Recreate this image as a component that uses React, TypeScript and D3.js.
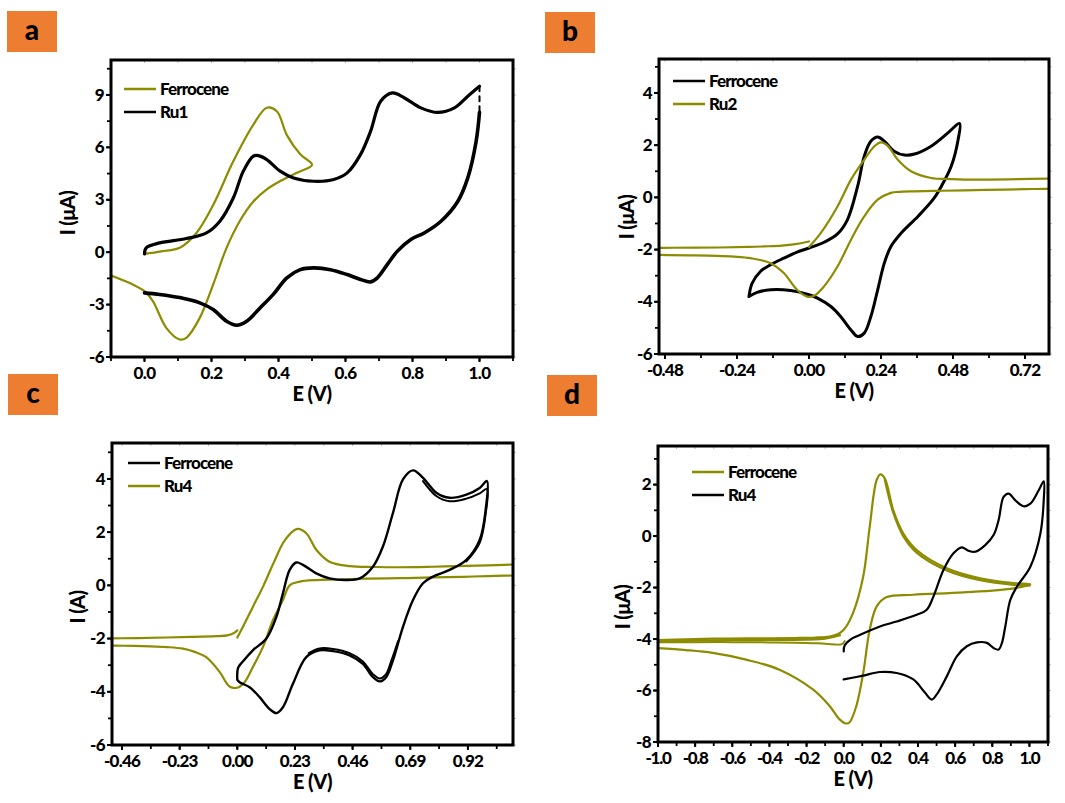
import React from "react";
import * as d3 from "d3";

type Pt = [number, number];

const OLIVE = "#8c8c00";
const ORANGE = "#ed7d31";
const FONT = "Lato, 'Open Sans', sans-serif";

// ---- panel a : E (V) vs I (uA)
const ferroceneA: Pt[] = [
  [0, -0.1], [0.05, 0.05], [0.105, 0.25], [0.155, 1.1], [0.205, 2.7], [0.265, 5.2],
  [0.325, 7.3], [0.365, 8.27], [0.395, 8.07], [0.425, 6.7], [0.465, 5.6], [0.5, 5.0],
  [0.455, 4.55], [0.405, 4.07], [0.365, 3.6], [0.325, 2.9], [0.285, 1.8], [0.245, 0.25],
  [0.205, -1.85], [0.165, -3.76], [0.125, -4.9], [0.105, -5.0], [0.065, -4.33],
  [0.025, -2.8], [0, -2.23], [-0.035, -1.85], [-0.1, -1.34],
];
const ru1AForward: Pt[] = [
  [0, -0.1], [0.005, 0.25], [0.045, 0.53], [0.125, 0.78], [0.185, 1.1], [0.225, 1.77],
  [0.265, 3.1], [0.295, 4.64], [0.325, 5.5], [0.34, 5.53], [0.365, 5.3], [0.405, 4.64],
  [0.445, 4.25], [0.505, 4.06], [0.565, 4.16], [0.605, 4.54], [0.645, 5.6], [0.675, 6.93],
  [0.705, 8.64], [0.74, 9.12], [0.775, 8.84], [0.825, 8.26], [0.875, 8.0], [0.925, 8.26],
  [0.965, 8.93], [1.0, 9.5],
];
const ru1AJump: Pt[] = [[1.0, 9.5], [1.0, 8.0]];
const ru1AReverse: Pt[] = [
  [1.0, 8.0], [0.99, 6.35], [0.965, 4.25], [0.935, 2.9], [0.885, 1.77], [0.835, 1.1],
  [0.795, 0.73], [0.755, 0.06], [0.725, -0.7], [0.695, -1.47], [0.675, -1.7], [0.645, -1.56],
  [0.605, -1.28], [0.555, -1.0], [0.505, -0.9], [0.465, -1.0], [0.425, -1.47], [0.385, -2.4],
  [0.345, -3.19], [0.305, -3.95], [0.275, -4.18], [0.245, -3.95], [0.205, -3.28],
  [0.165, -2.9], [0.105, -2.6], [0.045, -2.42], [0, -2.33],
];
const xTicksA = [0, 0.2, 0.4, 0.6, 0.8, 1.0];
const yTicksA = [-6, -3, 0, 3, 6, 9];

// ---- panel b
const ferroceneB: Pt[] = [
  [-0.2, -3.8], [-0.19, -3.3], [-0.162, -2.84], [-0.128, -2.58], [-0.084, -2.33],
  [-0.04, -2.1], [0, -1.94], [0.05, -1.72], [0.095, -1.4], [0.128, -0.86], [0.162, 0.42],
  [0.184, 1.57], [0.206, 2.15], [0.229, 2.31], [0.251, 2.15], [0.285, 1.76], [0.318, 1.62],
  [0.352, 1.66], [0.407, 1.96], [0.463, 2.47], [0.502, 2.83], [0.497, 2.21], [0.474, 1.19],
  [0.441, 0.42], [0.413, -0.09], [0.363, -0.73], [0.307, -1.37], [0.273, -1.88],
  [0.251, -2.52], [0.229, -3.54], [0.206, -4.57], [0.184, -5.2], [0.162, -5.33],
  [0.14, -5.08], [0.106, -4.57], [0.073, -4.18], [0.028, -3.86], [0, -3.73],
  [-0.061, -3.57], [-0.128, -3.54], [-0.173, -3.64], [-0.2, -3.8],
];
const ru2BForward: Pt[] = [
  [0, -1.9], [0.039, -1.37], [0.095, -0.35], [0.14, 0.68], [0.184, 1.44], [0.218, 1.96],
  [0.24, 2.11], [0.262, 1.98], [0.296, 1.44], [0.34, 1.0], [0.407, 0.74], [0.47, 0.7],
  [0.519, 0.68], [0.6, 0.68], [0.7, 0.7], [0.8, 0.72], [0.85, 0.73],
];
const ru2BReverse: Pt[] = [
  [0.85, 0.34], [0.75, 0.32], [0.65, 0.3], [0.519, 0.27], [0.43, 0.25], [0.352, 0.23],
  [0.3, 0.21], [0.273, 0.17], [0.229, -0.09], [0.184, -0.73], [0.14, -1.62], [0.095, -2.65],
  [0.05, -3.41], [0.017, -3.77], [-0.006, -3.8], [-0.04, -3.54], [-0.084, -2.9],
  [-0.128, -2.52], [-0.195, -2.33], [-0.25, -2.27], [-0.307, -2.24], [-0.4, -2.22],
  [-0.55, -2.2],
];
const ru2BReturn: Pt[] = [
  [-0.55, -1.94], [-0.45, -1.93], [-0.3, -1.92], [-0.2, -1.9], [-0.15, -1.88],
  [-0.09, -1.85], [-0.04, -1.78], [0, -1.69],
];
const xTicksB = [-0.48, -0.24, 0, 0.24, 0.48, 0.72];
const yTicksB = [-6, -4, -2, 0, 2, 4];

// ---- panel c
const ferroceneC: Pt[] = [
  [0.0, -3.55], [0.003, -3.1], [0.023, -2.85], [0.062, -2.44], [0.116, -2.0],
  [0.156, -1.18], [0.182, -0.3], [0.209, 0.58], [0.235, 0.86], [0.262, 0.77],
  [0.315, 0.45], [0.368, 0.26], [0.435, 0.2], [0.488, 0.26], [0.541, 0.7], [0.581, 1.46],
  [0.621, 2.72], [0.661, 3.98], [0.701, 4.32], [0.741, 4.04], [0.794, 3.48], [0.847, 3.29],
  [0.914, 3.41], [0.967, 3.66], [0.996, 3.92], [0.991, 2.85], [0.967, 1.71], [0.914, 0.96],
  [0.847, 0.58], [0.781, 0.33], [0.741, 0.08], [0.701, -0.55], [0.661, -1.56],
  [0.621, -2.82], [0.594, -3.45], [0.568, -3.61], [0.541, -3.45], [0.501, -2.95],
  [0.448, -2.63], [0.382, -2.47], [0.328, -2.44], [0.275, -2.7], [0.222, -3.7],
  [0.182, -4.58], [0.156, -4.8], [0.129, -4.65], [0.089, -4.2], [0.049, -3.83],
  [0.009, -3.64], [0.0, -3.55],
];
const ferroceneC2Top: Pt[] = [
  [0.741, 3.92], [0.794, 3.36], [0.847, 3.16], [0.914, 3.26], [0.967, 3.46], [0.996, 3.62],
  [0.991, 2.7], [0.967, 1.6], [0.914, 0.9],
];
const ferroceneC2Low: Pt[] = [
  [0.641, -2.1], [0.615, -2.82], [0.592, -3.36], [0.568, -3.5], [0.541, -3.34],
  [0.501, -2.86], [0.448, -2.55], [0.382, -2.39], [0.328, -2.37], [0.285, -2.55],
];
const ru4CForward: Pt[] = [
  [0, -1.96], [0.02, -1.6], [0.062, -0.81], [0.105, 0.0], [0.145, 0.85], [0.19, 1.7],
  [0.239, 2.12], [0.275, 1.96], [0.315, 1.34], [0.368, 0.89], [0.448, 0.72], [0.55, 0.69],
  [0.648, 0.68], [0.78, 0.7], [0.914, 0.73], [1.0, 0.75], [1.15, 0.8],
];
const ru4CReverse: Pt[] = [
  [1.15, 0.38], [1.0, 0.35], [0.9, 0.32], [0.781, 0.3], [0.65, 0.27], [0.515, 0.25],
  [0.4, 0.22], [0.315, 0.2], [0.249, 0.14], [0.209, 0.0], [0.182, -0.55], [0.142, -1.31],
  [0.102, -2.32], [0.062, -3.07], [0.029, -3.64], [-0.001, -3.85], [-0.031, -3.8],
  [-0.07, -3.26], [-0.124, -2.7], [-0.17, -2.5], [-0.217, -2.38], [-0.28, -2.32],
  [-0.35, -2.29], [-0.45, -2.27], [-0.55, -2.25],
];
const ru4CReturn: Pt[] = [
  [-0.55, -2.0], [-0.4, -1.98], [-0.283, -1.96], [-0.18, -1.94], [-0.084, -1.91],
  [-0.04, -1.88], [-0.017, -1.81], [0, -1.69],
];
const xTicksC = [-0.46, -0.23, 0, 0.23, 0.46, 0.69, 0.92];
const yTicksC = [-6, -4, -2, 0, 2, 4];

// ---- panel d
const ferroceneDStart: Pt[] = [
  [0.005, -4.08], [-0.01, -4.2], [-0.1, -4.18], [-0.2, -4.15], [-0.4, -4.13], [-0.6, -4.12],
  [-0.8, -4.12], [-1.05, -4.13],
];
const ferroceneD: Pt[] = [
  [-1.05, -4.05], [-0.8, -4.0], [-0.616, -3.98], [-0.4, -3.97], [-0.256, -3.96],
  [-0.15, -3.94], [-0.076, -3.9], [-0.03, -3.8],
  [0, -3.64], [0.05, -2.99], [0.105, -1.57], [0.14, 0.36], [0.177, 2.17], [0.198, 2.4],
  [0.222, 2.23], [0.267, 1.0], [0.321, 0.1], [0.393, -0.54], [0.555, -1.25], [0.735, -1.64],
  [0.915, -1.83], [1.005, -1.87], [0.915, -2.03], [0.645, -2.19], [0.375, -2.28],
  [0.231, -2.37], [0.177, -2.74], [0.14, -3.64], [0.105, -5.32], [0.068, -6.6],
  [0.032, -7.23], [0.011, -7.28], [-0.022, -7.12], [-0.076, -6.6], [-0.166, -5.96],
  [-0.346, -5.19], [-0.526, -4.8], [-0.706, -4.54], [-0.85, -4.43], [-1.05, -4.33],
];
const ferroceneD2: Pt[] = [
  [-1.05, -4.12], [-0.8, -4.06], [-0.4, -4.03], [-0.1, -3.98], [-0.02, -3.85],
];
const ferroceneD3: Pt[] = [
  [0.222, 2.18], [0.267, 0.92], [0.321, 0.0], [0.393, -0.64], [0.555, -1.33],
  [0.735, -1.71], [0.915, -1.89], [1.0, -1.92],
];
const ru4D: Pt[] = [
  [0.0, -4.48], [0.005, -4.25], [0.04, -4.0], [0.068, -3.9], [0.195, -3.51], [0.285, -3.32],
  [0.393, -3.06], [0.447, -2.86], [0.483, -2.35], [0.537, -1.32], [0.591, -0.67],
  [0.636, -0.44], [0.672, -0.57], [0.708, -0.61], [0.762, -0.35], [0.807, 0.04],
  [0.834, 0.62], [0.861, 1.52], [0.888, 1.65], [0.924, 1.39], [0.969, 1.16], [1.005, 1.26],
  [1.05, 1.78], [1.077, 2.13], [1.077, 1.39], [1.059, 0.1], [1.005, -1.19], [0.933, -1.96],
  [0.897, -2.48], [0.87, -3.51], [0.852, -4.15], [0.834, -4.41], [0.807, -4.35],
  [0.771, -4.15], [0.717, -4.13], [0.663, -4.28], [0.609, -4.67], [0.555, -5.45],
  [0.501, -6.15], [0.474, -6.35], [0.438, -6.09], [0.375, -5.57], [0.285, -5.32],
  [0.195, -5.28], [0.105, -5.42], [0, -5.57],
];
const xTicksD = [-1.0, -0.8, -0.6, -0.4, -0.2, 0, 0.2, 0.4, 0.6, 0.8, 1.0];
const yTicksD = [-8, -6, -4, -2, 0, 2];

const locale = d3.formatLocale({ decimal: ".", thousands: ",", grouping: [3], currency: ["", ""], minus: "-" });

type Series = { data: Pt[]; color: string; width: number; dash?: string };
type PanelCfg = {
  id: string;
  letter: string;
  box: [number, number];
  frame: { x0: number; x1: number; y0: number; y1: number };
  xDomain: [number, number];
  yDomain: [number, number];
  xTicks: number[];
  yTicks: number[];
  xFmt: string;
  xTickSpacing: number;
  yTitle: string;
  yTitleX: number;
  yTitleY: number;
  series: Series[];
  legend: { x: number; y: number; items: { label: string; color: string }[] };
};

const panels: PanelCfg[] = [
  {
    id: "a", letter: "a", box: [7, 11],
    frame: { x0: 111, x1: 513, y0: 60, y1: 357 },
    xDomain: [-0.1, 1.1], yDomain: [-6, 11], xTicks: xTicksA, yTicks: yTicksA, xFmt: ".1f", xTickSpacing: -0.6,
    yTitle: "I (μA)", yTitleX: 75, yTitleY: 213,
    series: [
      { data: ferroceneA, color: OLIVE, width: 2.2 },
      { data: ru1AForward, color: "#000", width: 3.2 },
      { data: ru1AJump, color: "#000", width: 2, dash: "5,5" },
      { data: ru1AReverse, color: "#000", width: 3.6 },
    ],
    legend: { x: 124, y: 89, items: [{ label: "Ferrocene", color: OLIVE }, { label: "Ru1", color: "#000" }] },
  },
  {
    id: "b", letter: "b", box: [545, 12],
    frame: { x0: 659, x1: 1049, y0: 59, y1: 354 },
    xDomain: [-0.5, 0.8], yDomain: [-6, 5.3], xTicks: xTicksB, yTicks: yTicksB, xFmt: ".2f", xTickSpacing: -0.8,
    yTitle: "I (μA)", yTitleX: 634, yTitleY: 217,
    series: [
      { data: ferroceneB, color: "#000", width: 3 },
      { data: ru2BForward, color: OLIVE, width: 2.2 },
      { data: ru2BReverse, color: OLIVE, width: 2.2 },
      { data: ru2BReturn, color: OLIVE, width: 2.2 },
    ],
    legend: { x: 673, y: 81, items: [{ label: "Ferrocene", color: "#000" }, { label: "Ru2", color: OLIVE }] },
  },
  {
    id: "c", letter: "c", box: [8, 374],
    frame: { x0: 112, x1: 513, y0: 443, y1: 745 },
    xDomain: [-0.5, 1.1], yDomain: [-6, 5.35], xTicks: xTicksC, yTicks: yTicksC, xFmt: ".2f", xTickSpacing: -0.8,
    yTitle: "I (A)", yTitleX: 85, yTitleY: 607,
    series: [
      { data: ru4CForward, color: OLIVE, width: 2.2 },
      { data: ru4CReverse, color: OLIVE, width: 2.2 },
      { data: ru4CReturn, color: OLIVE, width: 2.2 },
      { data: ferroceneC, color: "#000", width: 2.4 },
      { data: ferroceneC2Top, color: "#000", width: 2 },
      { data: ferroceneC2Low, color: "#000", width: 2 },
    ],
    legend: { x: 128, y: 463, items: [{ label: "Ferrocene", color: "#000" }, { label: "Ru4", color: OLIVE }] },
  },
  {
    id: "d", letter: "d", box: [547, 375],
    frame: { x0: 658, x1: 1048, y0: 446, y1: 742 },
    xDomain: [-1.0, 1.1], yDomain: [-8, 3.5], xTicks: xTicksD, yTicks: yTicksD, xFmt: ".1f", xTickSpacing: -1.3,
    yTitle: "I (μA)", yTitleX: 630, yTitleY: 607,
    series: [
      { data: ferroceneDStart, color: OLIVE, width: 2 },
      { data: ferroceneD, color: OLIVE, width: 2.2 },
      { data: ferroceneD2, color: OLIVE, width: 2.4 },
      { data: ferroceneD3, color: OLIVE, width: 2.4 },
      { data: ru4D, color: "#000", width: 2.2 },
    ],
    legend: { x: 692, y: 472, items: [{ label: "Ferrocene", color: OLIVE }, { label: "Ru4", color: "#000" }] },
  },
];

function Panel({ p }: { p: PanelCfg }) {
  const { frame } = p;
  const x = d3.scaleLinear().domain(p.xDomain).range([frame.x0, frame.x1]);
  const y = d3.scaleLinear().domain(p.yDomain).range([frame.y1, frame.y0]);
  const line = d3
    .line<Pt>()
    .x((d) => x(d[0]))
    .y((d) => y(d[1]))
    .curve(d3.curveCatmullRom.alpha(0.5));
  const fx = locale.format(p.xFmt);
  const xStep = p.xTicks[1] - p.xTicks[0];
  const yStep = p.yTicks[1] - p.yTicks[0];
  const xMinor = d3
    .range(p.xTicks[0] - xStep * 2, p.xTicks[p.xTicks.length - 1] + xStep * 2, xStep / 2)
    .filter((v) => v >= p.xDomain[0] - 1e-9 && v <= p.xDomain[1] + 1e-9);
  const yMinor = d3
    .range(p.yTicks[0] - yStep * 2, p.yTicks[p.yTicks.length - 1] + yStep * 2, yStep / 2)
    .filter((v) => v >= p.yDomain[0] - 1e-9 && v <= p.yDomain[1] + 1e-9);
  const clipId = `clip-${p.id}`;
  const textStyle = { fontFamily: FONT, fontWeight: 900 as const };
  return (
    <g>
      <rect x={p.box[0]} y={p.box[1]} width={50} height={41} fill={ORANGE} />
      <text x={p.box[0] + 25} y={p.box[1] + 29} textAnchor="middle" fontSize={28} style={textStyle}>
        {p.letter}
      </text>
      <defs>
        <clipPath id={clipId}>
          <rect x={frame.x0} y={frame.y0} width={frame.x1 - frame.x0} height={frame.y1 - frame.y0} />
        </clipPath>
      </defs>
      <g clipPath={`url(#${clipId})`}>
        {p.series.map((s, i) => (
          <path key={i} d={line(s.data) || ""} fill="none" stroke={s.color} strokeWidth={s.width}
            strokeDasharray={s.dash} strokeLinejoin="round" strokeLinecap="round" />
        ))}
      </g>
      {xMinor.map((v, i) => (
        <g key={"xm" + i}>
          <line x1={x(v)} x2={x(v)} y1={frame.y1} y2={frame.y1 + 4} stroke="#000" strokeWidth={1.8} />
          <line x1={x(v)} x2={x(v)} y1={frame.y0} y2={frame.y0 + 3} stroke="#bbb" strokeWidth={1} />
        </g>
      ))}
      {yMinor.map((v, i) => (
        <g key={"ym" + i}>
          <line x1={frame.x0} x2={frame.x0 - 4} y1={y(v)} y2={y(v)} stroke="#000" strokeWidth={1.8} />
          <line x1={frame.x1} x2={frame.x1 + 3} y1={y(v)} y2={y(v)} stroke="#bbb" strokeWidth={1} />
        </g>
      ))}
      {p.xTicks.map((v, i) => (
        <g key={"x" + i}>
          <line x1={x(v)} x2={x(v)} y1={frame.y1} y2={frame.y1 + 5} stroke="#000" strokeWidth={2} />
          <text x={x(v)} y={frame.y1 + 22} textAnchor="middle" fontSize={17} style={textStyle}
            letterSpacing={p.xTickSpacing}>
            {fx(v)}
          </text>
        </g>
      ))}
      {p.yTicks.map((v, i) => (
        <g key={"y" + i}>
          <line x1={frame.x0} x2={frame.x0 - 5} y1={y(v)} y2={y(v)} stroke="#000" strokeWidth={2} />
          <text x={frame.x0 - 7} y={y(v)} dy="0.33em" textAnchor="end" fontSize={17} style={textStyle}
            letterSpacing={-0.6}>
            {locale.format("d")(v)}
          </text>
        </g>
      ))}
      <rect x={frame.x0} y={frame.y0} width={frame.x1 - frame.x0} height={frame.y1 - frame.y0}
        fill="none" stroke="#000" strokeWidth={3} />
      <text x={(frame.x0 + frame.x1) / 2} y={frame.y1 + 44} textAnchor="middle" fontSize={20}
        style={textStyle} letterSpacing={-0.6}>
        E (V)
      </text>
      <text transform={`translate(${p.yTitleX},${p.yTitleY}) rotate(-90)`} textAnchor="middle" fontSize={20}
        style={textStyle} letterSpacing={-0.6}>
        {p.yTitle}
      </text>
      {p.legend.items.map((it, i) => (
        <g key={"lg" + i}>
          <line x1={p.legend.x} x2={p.legend.x + 32} y1={p.legend.y + i * 23} y2={p.legend.y + i * 23}
            stroke={it.color} strokeWidth={2.5} />
          <text x={p.legend.x + 36} y={p.legend.y + i * 23} dy="0.36em" fontSize={17} style={textStyle}
            letterSpacing={-0.9}>
            {it.label}
          </text>
        </g>
      ))}
    </g>
  );
}

export default function App() {
  return (
    <svg width={1065} height={803} style={{ position: "absolute", left: 0, top: 0, background: "#fff" }}>
      {panels.map((p) => (
        <Panel key={p.id} p={p} />
      ))}
    </svg>
  );
}
